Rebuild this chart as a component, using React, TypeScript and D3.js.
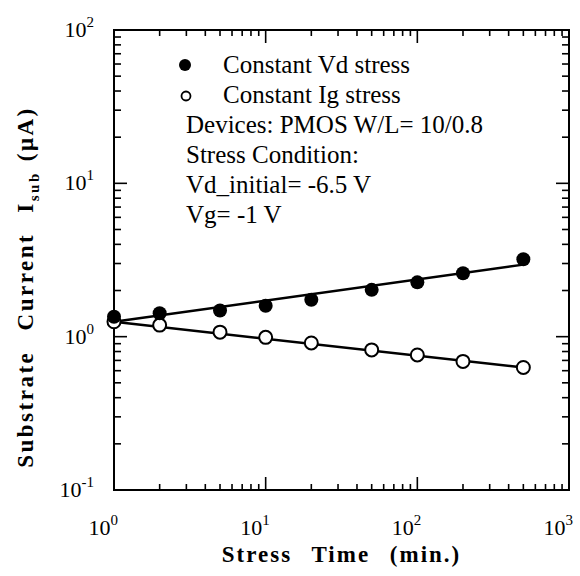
import React from 'react';
import * as d3 from 'd3';

const timeVd = [1, 2, 5, 10, 20, 50, 100, 200, 500];
const isubVd = [1.35, 1.42, 1.48, 1.59, 1.74, 2.02, 2.26, 2.59, 3.2];
const timeIg = [1, 2, 5, 10, 20, 50, 100, 200, 500];
const isubIg = [1.25, 1.19, 1.07, 0.99, 0.91, 0.82, 0.76, 0.69, 0.63];
const fitTime = [1, 500];
const fitVd = [1.25, 2.95];
const fitIg = [1.25, 0.63];
const xTickValues = [1, 10, 100, 1000];
const xTickExp = ['0', '1', '2', '3'];
const yTickValues = [0.1, 1, 10, 100];
const yTickExp = ['-1', '0', '1', '2'];
const legendLabels = ['Constant Vd stress', 'Constant Ig stress'];
const noteLines = ['Devices: PMOS W/L= 10/0.8', 'Stress Condition:', 'Vd_initial= -6.5 V', 'Vg= -1 V'];

const W = 580, H = 576;
const L = 114, R = 569, T = 30, B = 490;
const serif = '"Liberation Serif", "Times New Roman", serif';

function minorTicks(lo: number, hi: number) {
  const out: { v: number; major: boolean }[] = [];
  for (let d = lo; d < hi; d *= 10) {
    out.push({ v: d, major: true });
    for (let k = 2; k <= 9; k++) out.push({ v: d * k, major: false });
  }
  out.push({ v: hi, major: true });
  return out;
}

export default function App() {
  const x = d3.scaleLog().domain([1, 1000]).range([L, R]);
  const y = d3.scaleLog().domain([0.1, 100]).range([B, T]);
  const line = d3.line<[number, number]>().x(d => x(d[0])).y(d => y(d[1]));
  const xt = minorTicks(1, 1000);
  const yt = minorTicks(0.1, 100);
  const ptsVd = timeVd.map((t, i) => [t, isubVd[i]] as [number, number]);
  const ptsIg = timeIg.map((t, i) => [t, isubIg[i]] as [number, number]);
  const fVd = fitTime.map((t, i) => [t, fitVd[i]] as [number, number]);
  const fIg = fitTime.map((t, i) => [t, fitIg[i]] as [number, number]);

  return (
    <svg width={W} height={H} style={{ position: 'absolute', left: 0, top: 0, background: '#fff' }} fontFamily={serif}>
      <rect x={0} y={0} width={W} height={H} fill="#fff" />
      {/* ticks */}
      <g stroke="#000" strokeWidth={1.6}>
        {xt.map((t, i) => {
          const len = t.major ? 13 : 6;
          const px = x(t.v);
          return (
            <g key={'xt' + i}>
              <line x1={px} x2={px} y1={B} y2={B - len} />
              <line x1={px} x2={px} y1={T} y2={T + len} />
            </g>
          );
        })}
        {yt.map((t, i) => {
          const len = t.major ? 13 : 7;
          const py = y(t.v);
          return (
            <g key={'yt' + i}>
              <line x1={L} x2={L + len} y1={py} y2={py} />
              <line x1={R} x2={R - len} y1={py} y2={py} />
            </g>
          );
        })}
      </g>
      <rect x={L} y={T} width={R - L} height={B - T} fill="none" stroke="#000" strokeWidth={2} />
      {/* tick labels */}
      {xTickValues.map((v, i) => (
        <text key={'xl' + i} x={x(v) + 4} y={535} textAnchor="end" fontSize={22} fill="#000">
          <tspan>10</tspan>
          <tspan fontSize={15} dy={-10}>{xTickExp[i]}</tspan>
        </text>
      ))}
      {yTickValues.map((v, i) => (
        <text key={'yl' + i} x={94} y={y(v) + 7} textAnchor="end" fontSize={22} fill="#000">
          <tspan>10</tspan>
          <tspan fontSize={15} dy={-10}>{yTickExp[i]}</tspan>
        </text>
      ))}
      {/* fit lines */}
      <path d={line(fVd) || ''} fill="none" stroke="#000" strokeWidth={2.5} />
      <path d={line(fIg) || ''} fill="none" stroke="#000" strokeWidth={2.5} />
      {/* points */}
      {ptsIg.map((p, i) => (
        <circle key={'ig' + i} cx={x(p[0])} cy={y(p[1])} r={6.5} fill="#fff" stroke="#000" strokeWidth={2} />
      ))}
      {ptsVd.map((p, i) => (
        <circle key={'vd' + i} cx={x(p[0])} cy={y(p[1])} r={7} fill="#000" />
      ))}
      {/* legend */}
      <circle cx={185} cy={65} r={6} fill="#000" />
      <circle cx={186} cy={96} r={4.5} fill="#fff" stroke="#000" strokeWidth={1.8} />
      {legendLabels.map((s, i) => (
        <text key={'lg' + i} x={223} y={73 + i * 30} fontSize={25} fill="#000">{s}</text>
      ))}
      {noteLines.map((s, i) => (
        <text key={'nt' + i} x={186} y={133 + i * 30} fontSize={25} fill="#000">{s}</text>
      ))}
      {/* axis titles */}
      <text x={(L + R) / 2} y={562} textAnchor="middle" fontSize={23} fontWeight="bold" letterSpacing={2} wordSpacing={12} fill="#000">
        Stress Time (min.)
      </text>
      <text transform={`translate(33, 287) rotate(-90)`} textAnchor="middle" fontSize={23} fontWeight="bold" letterSpacing={2.5} wordSpacing={12} fill="#000">
        <tspan>Substrate Current I</tspan>
        <tspan fontSize={15} dy={6}>sub</tspan>
        <tspan dy={-6} dx={10}>(μA)</tspan>
      </text>
    </svg>
  );
}
